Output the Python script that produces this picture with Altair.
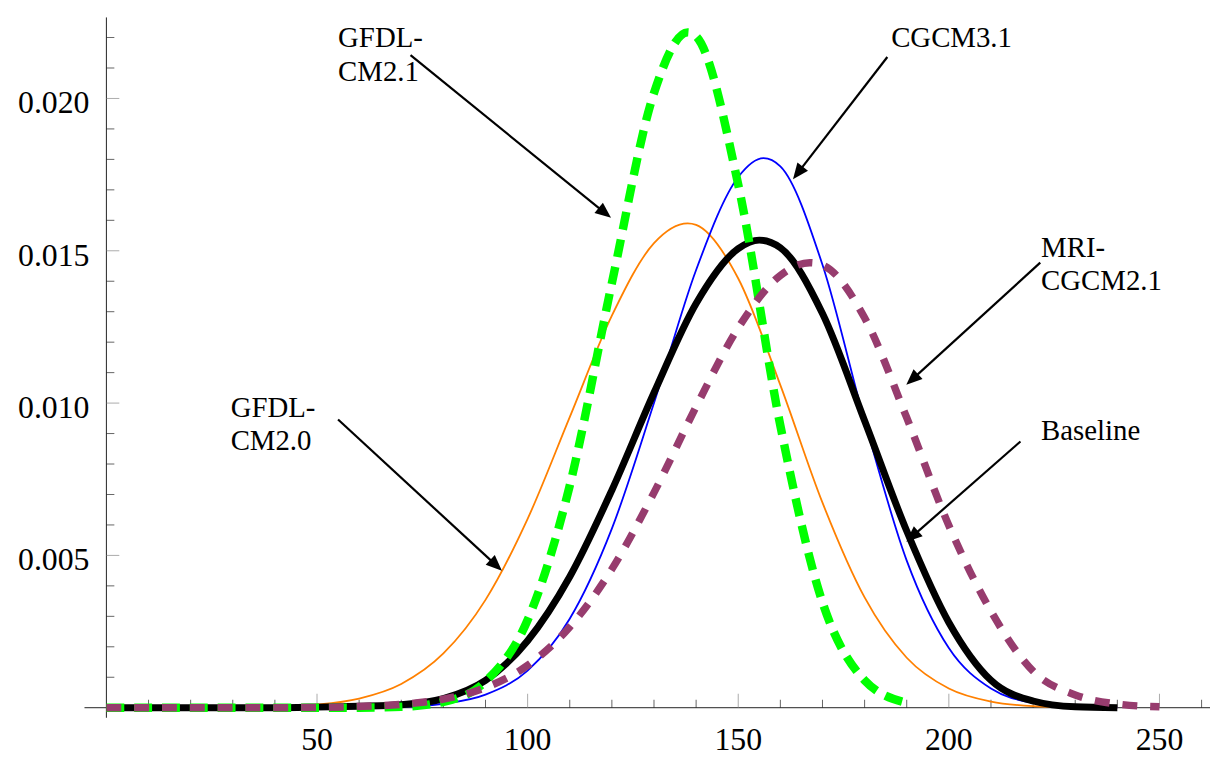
import math
import altair as alt
import pandas as pd

# ---------------- data ----------------
BASE_X = [0, 10, 20, 30, 40, 50, 60, 70, 80, 90, 100, 110, 120, 130, 140, 150, 155, 160, 170, 180, 190, 200, 210, 220, 230, 240]
BASE_Y = [0, 0, 0, 0, 0, 0.00002, 0.00005, 0.0001, 0.0003, 0.0009, 0.0022, 0.0043, 0.00714, 0.01034, 0.01327, 0.01507, 0.01535, 0.0151, 0.01294, 0.00942, 0.0058, 0.0028, 0.0009, 0.00022, 0.00003, 0]

ORANGE_X = [0, 10, 20, 30, 40, 50, 60, 70, 80, 90, 100, 110, 120, 130, 138, 140, 150, 160, 170, 180, 190, 200, 210, 220, 230, 240]
ORANGE_Y = [0, 0, 0, 0, 0.00003, 0.0001, 0.0003, 0.00078, 0.00178, 0.00354, 0.0062, 0.00954, 0.01287, 0.01525, 0.0159, 0.01585, 0.01409, 0.01059, 0.00673, 0.00362, 0.00164, 0.00063, 0.0002, 0.00005, 0.00001, 0]

BLUE_X = [0, 10, 20, 30, 40, 50, 60, 70, 80, 90, 100, 110, 120, 130, 140, 150, 156, 160, 170, 180, 190, 200, 210, 220, 230, 240]
BLUE_Y = [0, 0, 0, 0, 0, 0, 0.00001, 0.00003, 0.00013, 0.00043, 0.00122, 0.00292, 0.00588, 0.0100, 0.01437, 0.01742, 0.01804, 0.01777, 0.01454, 0.00942, 0.00483, 0.00196, 0.00063, 0.00016, 0.00003, 0]

GREEN_X = [0, 10, 20, 30, 40, 50, 60, 70, 80, 90, 100, 110, 120, 130, 138, 140, 150, 160, 170, 180, 190]
GREEN_Y = [0, 0, 0, 0, 0, 0, 0, 0.00003, 0.00019, 0.00086, 0.00288, 0.00729, 0.01394, 0.02018, 0.02217, 0.02204, 0.01717, 0.00926, 0.00346, 0.0009, 0.00016]

PURPLE_X = [0, 10, 20, 30, 40, 50, 60, 70, 80, 90, 100, 110, 120, 130, 140, 150, 160, 167, 170, 180, 190, 200, 210, 220, 230, 240, 250]
PURPLE_Y = [0, 0, 0, 0, 0, 0.00001, 0.00004, 0.00011, 0.00028, 0.00066, 0.00139, 0.00265, 0.00455, 0.00706, 0.00988, 0.01247, 0.01419, 0.01461, 0.01453, 0.0128, 0.00952, 0.00598, 0.00317, 0.0012, 0.00042, 0.00012, 0.00003]

X_LABELS = [50, 100, 150, 200, 250]
X_LABEL_TEXT = ["50", "100", "150", "200", "250"]
X_MINOR = [v for v in range(10, 261, 10) if v % 50 != 0]
Y_LABELS = [0.005, 0.010, 0.015, 0.020]
Y_LABEL_TEXT = ["0.005", "0.010", "0.015", "0.020"]
Y_MINOR = [i / 1000 for i in range(1, 23) if i % 5 != 0]

# annotations: label text, left x, baseline y
ANN_TEXT = ["GFDL-\nCM2.1", "GFDL-\nCM2.0", "CGCM3.1", "MRI-\nCGCM2.1", "Baseline"]
ANN_X = [55.0, 29.5, 186.3, 221.9, 221.9]
ANN_Y = [0.02169, 0.009555, 0.02169, 0.014805, 0.008772]

# arrows: start -> tip
ARR_X1 = [72.2, 185.4, 221.7, 217.0, 55.0]
ARR_Y1 = [0.02142, 0.02136, 0.01461, 0.00874, 0.00946]
ARR_X2 = [119.8, 163.0, 189.9, 189.9, 93.9]
ARR_Y2 = [0.01608, 0.01735, 0.01060, 0.00545, 0.00450]

# ---------------- layout ----------------
X_MIN, X_MAX = -5.2, 262.0
Y_MIN, Y_MAX = -0.00033, 0.02266
W, H = 1133, 705
FONT = "Liberation Serif"
PXX = W / (X_MAX - X_MIN)
PXY = H / (Y_MAX - Y_MIN)

xs = alt.Scale(domain=[X_MIN, X_MAX], nice=False, zero=False)
ys = alt.Scale(domain=[Y_MIN, Y_MAX], nice=False, zero=False)
X0 = alt.XDatum(0, type="quantitative", scale=xs, axis=None)
Y0 = alt.YDatum(0, type="quantitative", scale=ys, axis=None)


def curve(xv, yv, **mark):
    df = pd.DataFrame({"x": xv, "y": yv})
    return alt.Chart(df).mark_line(interpolate="monotone", **mark).encode(
        x=alt.X("x:Q", scale=xs, axis=None),
        y=alt.Y("y:Q", scale=ys, axis=None),
    )


orange = curve(ORANGE_X, ORANGE_Y, color="#FF8000", strokeWidth=1.8)
blue = curve(BLUE_X, BLUE_Y, color="#0000FF", strokeWidth=1.8)
green = curve(GREEN_X, GREEN_Y, color="#00FF00", strokeWidth=8.5, strokeDash=[18, 10], strokeCap="butt")
black = curve(BASE_X, BASE_Y, color="#000000", strokeWidth=7)
purple = curve(PURPLE_X, PURPLE_Y, color="#973C6E", strokeWidth=7.5, strokeDash=[15, 13], strokeCap="butt")

# axis lines through the origin
yaxis_line = alt.Chart(pd.DataFrame({"a": [0]})).mark_rule(color="#222222", strokeWidth=1).encode(x=X0)
xaxis_line = alt.Chart(pd.DataFrame({"a": [0]})).mark_rule(color="#222222", strokeWidth=1).encode(y=Y0)

# x ticks (pointing up) and x labels
x_major = alt.Chart(pd.DataFrame({"v": X_LABELS})).mark_tick(
    orient="vertical", size=14, thickness=1, yOffset=-7, color="#888888").encode(
    x=alt.X("v:Q", scale=xs, axis=None), y=Y0)
x_minor = alt.Chart(pd.DataFrame({"v": X_MINOR})).mark_tick(
    orient="vertical", size=8, thickness=1, yOffset=-4, color="#222222").encode(
    x=alt.X("v:Q", scale=xs, axis=None), y=Y0)
x_text = alt.Chart(pd.DataFrame({"v": X_LABELS, "t": X_LABEL_TEXT})).mark_text(
    baseline="alphabetic", align="center", dy=43, font=FONT, fontSize=32, color="black").encode(
    x=alt.X("v:Q", scale=xs, axis=None), y=Y0, text="t:N")

# y ticks (pointing right) and y labels
y_major = alt.Chart(pd.DataFrame({"v": Y_LABELS})).mark_tick(
    orient="horizontal", size=13, thickness=1, xOffset=6.5, color="#888888").encode(
    y=alt.Y("v:Q", scale=ys, axis=None), x=X0)
y_minor = alt.Chart(pd.DataFrame({"v": Y_MINOR})).mark_tick(
    orient="horizontal", size=8, thickness=1, xOffset=4, color="#222222").encode(
    y=alt.Y("v:Q", scale=ys, axis=None), x=X0)
y_text = alt.Chart(pd.DataFrame({"v": Y_LABELS, "t": Y_LABEL_TEXT})).mark_text(
    baseline="alphabetic", align="right", dx=-17, dy=15, font=FONT, fontSize=32, color="black").encode(
    y=alt.Y("v:Q", scale=ys, axis=None), x=X0, text="t:N")

# arrows
HEAD = 16.0
rows = []
for x1, y1, x2, y2 in zip(ARR_X1, ARR_Y1, ARR_X2, ARR_Y2):
    dx = (x2 - x1) * PXX
    dy = -(y2 - y1) * PXY
    L = math.hypot(dx, dy)
    ux, uy = dx / L, dy / L
    back = HEAD * 0.6
    sx = x2 - ux * back / PXX
    sy = y2 + uy * back / PXY
    ang = math.degrees(math.atan2(dx, -dy)) % 360
    rows.append({"x1": x1, "y1": y1, "sx": sx, "sy": sy, "x2": x2, "y2": y2, "ang": ang})
arr_df = pd.DataFrame(rows)

shafts = alt.Chart(arr_df).mark_rule(color="black", strokeWidth=2.2).encode(
    x=alt.X("x1:Q", scale=xs, axis=None), y=alt.Y("y1:Q", scale=ys, axis=None),
    x2="sx:Q", y2="sy:Q")
heads = alt.Chart(arr_df).mark_point(
    shape="M0,0L-0.42,1L0.42,1Z", filled=True, size=1024, color="black", opacity=1).encode(
    x=alt.X("x2:Q", scale=xs, axis=None), y=alt.Y("y2:Q", scale=ys, axis=None),
    angle=alt.Angle("ang:Q", scale=None))

ann_df = pd.DataFrame({"t": ANN_TEXT, "x": ANN_X, "y": ANN_Y})
texts = alt.Chart(ann_df).mark_text(
    align="left", baseline="alphabetic", font=FONT, fontSize=29,
    lineBreak="\n", lineHeight=34, color="black").encode(
    x=alt.X("x:Q", scale=xs, axis=None), y=alt.Y("y:Q", scale=ys, axis=None),
    text="t:N")

chart = alt.layer(
    xaxis_line, yaxis_line, x_minor, x_major, y_minor, y_major, x_text, y_text,
    orange, blue, black, green, purple,
    shafts, heads, texts,
).properties(
    width=W, height=H,
    autosize=alt.AutoSizeParams(type="none"),
    padding={"left": 77, "top": 7, "right": 1, "bottom": 36},
    background="white",
).configure_view(stroke=None)

chart.save("out.html", embed_options={"renderer": "svg", "actions": False})
